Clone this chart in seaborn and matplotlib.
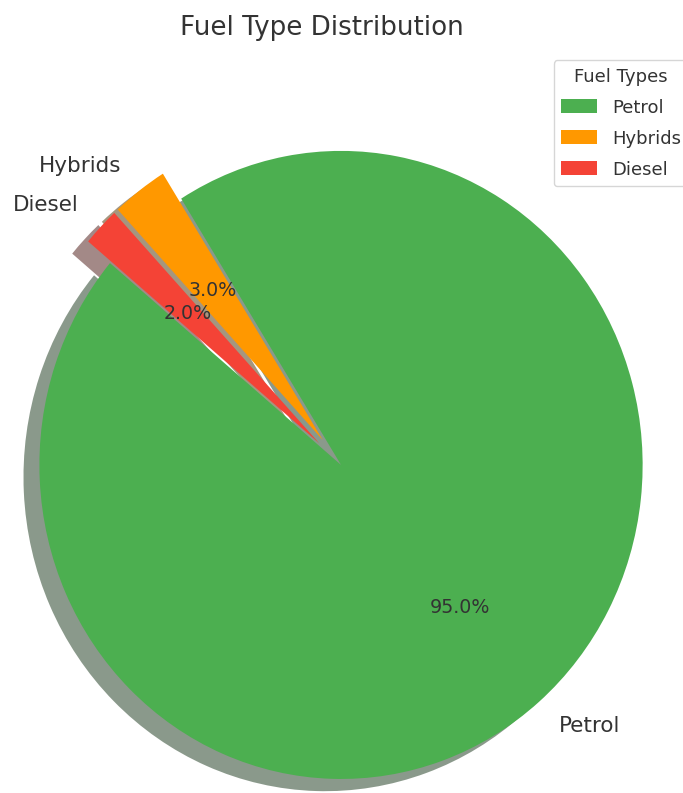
import matplotlib
matplotlib.use("Agg")
import matplotlib.pyplot as plt
import seaborn as sns

# Fuel share data
fuel_types = ["Petrol", "Hybrids", "Diesel"]
shares = [95, 3, 2]
colors = ["#4CAF50", "#FF9800", "#F44336"]
explode = [0, 0.1, 0.1]

sns.set_theme(style="white")
plt.rcParams["font.family"] = ["DejaVu Sans"]
text_color = ".2"

fig = plt.figure(figsize=(6.83, 7.93), dpi=100)
ax = fig.add_axes([-0.0527, -0.0813, 1.104, 0.99])

wedges, texts, autotexts = ax.pie(
    shares,
    labels=fuel_types,
    colors=colors,
    explode=explode,
    autopct="%1.1f%%",
    startangle=140,
    shadow={"ox": -0.038, "oy": -0.028},
    wedgeprops={"linewidth": 0, "edgecolor": "none"},
    textprops={"color": text_color},
)
ax.set_aspect("auto")
ax.set_xlim(-1.25, 1.25)
ax.set_ylim(-1.25, 1.25)

for t in texts:
    t.set_fontsize(15.5)
for t in autotexts:
    t.set_fontsize(13.7)

fig.text(322 / 683, 1 - 28 / 793, "Fuel Type Distribution",
         ha="center", va="center", fontsize=18.8, color=text_color)

leg = fig.legend(wedges, fuel_types, title="Fuel Types",
                 loc="upper right", bbox_to_anchor=(1.008, 1 - 60 / 793),
                 borderaxespad=0, fontsize=13, title_fontsize=13,
                 labelspacing=0.72, handleheight=0.8, borderpad=0.42,
                 frameon=True)
for t in leg.get_texts():
    t.set_color(text_color)
leg.get_title().set_color(text_color)

fig.savefig("out.png", dpi=100)
